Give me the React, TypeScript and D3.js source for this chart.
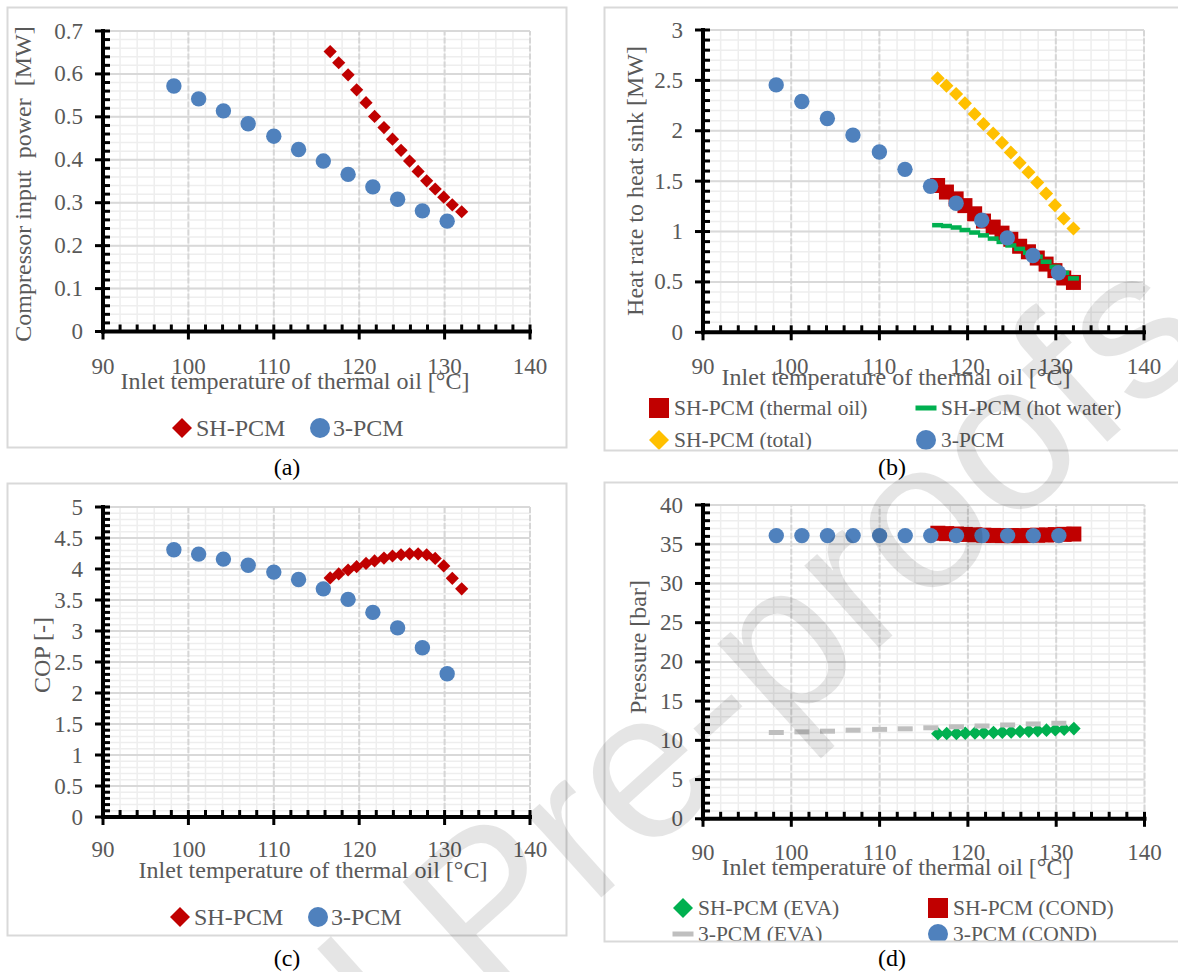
import React from 'react';
import * as d3 from 'd3';

// Inlet temperature of thermal oil [°C]
const tempThreePCM = [98.3, 101.2, 104.1, 107.0, 110.0, 112.9, 115.8, 118.7, 121.6, 124.5, 127.4, 130.3];
const tempSHPCM = [116.6, 117.6, 118.7, 119.7, 120.8, 121.8, 122.9, 123.9, 124.9, 125.9, 126.9, 127.9, 128.9, 129.9, 130.9, 132.0];

// (a) compressor input power [MW]
const powerSHPCM = [0.652, 0.626, 0.598, 0.563, 0.533, 0.501, 0.475, 0.448, 0.422, 0.397, 0.373, 0.351, 0.332, 0.313, 0.295, 0.279];
const powerThreePCM = [0.572, 0.542, 0.514, 0.484, 0.455, 0.424, 0.397, 0.366, 0.337, 0.308, 0.281, 0.257];

// (b) heat rate to heat sink [MW]
const heatOilSHPCM = [1.457, 1.392, 1.324, 1.257, 1.176, 1.104, 1.044, 0.984, 0.923, 0.854, 0.799, 0.737, 0.677, 0.612, 0.539, 0.495];
const heatWaterSHPCM = [1.063, 1.055, 1.04, 1.015, 0.99, 0.962, 0.93, 0.897, 0.862, 0.828, 0.79, 0.75, 0.7, 0.65, 0.59, 0.535];
const heatTotalSHPCM = [2.52, 2.447, 2.364, 2.272, 2.166, 2.066, 1.974, 1.881, 1.785, 1.682, 1.589, 1.487, 1.377, 1.262, 1.129, 1.03];
const heatThreePCM = [2.455, 2.29, 2.122, 1.957, 1.789, 1.617, 1.449, 1.281, 1.112, 0.937, 0.762, 0.591];

// (c) coefficient of performance [-]
const copSHPCM = [3.856, 3.92, 3.984, 4.037, 4.09, 4.13, 4.176, 4.21, 4.23, 4.245, 4.245, 4.23, 4.17, 4.05, 3.85, 3.68];
const copThreePCM = [4.31, 4.24, 4.16, 4.06, 3.95, 3.83, 3.68, 3.51, 3.3, 3.05, 2.73, 2.31];

// (d) evaporator / condenser pressure [bar]
const pEvaSHPCM = [10.85, 10.87, 10.88, 10.9, 10.93, 10.96, 11.0, 11.04, 11.08, 11.13, 11.18, 11.24, 11.3, 11.36, 11.43, 11.5];
const pCondSHPCM = [36.4, 36.35, 36.3, 36.25, 36.2, 36.15, 36.12, 36.1, 36.1, 36.1, 36.12, 36.15, 36.18, 36.22, 36.26, 36.3];
const pEvaThreePCM = [11.0, 11.08, 11.17, 11.3, 11.4, 11.47, 11.6, 11.73, 11.83, 11.96, 12.09, 12.18];
const pCondThreePCM = [36.1, 36.1, 36.1, 36.1, 36.1, 36.1, 36.1, 36.1, 36.1, 36.1, 36.1, 36.1];

// Axis tick labels
const xTickValues = [90, 100, 110, 120, 130, 140];
const yTicksPower = [0, 0.1, 0.2, 0.3, 0.4, 0.5, 0.6, 0.7];
const yTicksHeat = [0, 0.5, 1, 1.5, 2, 2.5, 3];
const yTicksCop = [0, 0.5, 1, 1.5, 2, 2.5, 3, 3.5, 4, 4.5, 5];
const yTicksPressure = [0, 5, 10, 15, 20, 25, 30, 35, 40];

const RED = '#C00000';
const BLUE = '#4F81BD';
const GREEN = '#00B050';
const GOLD = '#FFC000';
const GREY = '#BFBFBF';
const TEXT = '#595959';
const SERIF = "'Liberation Serif', 'Times New Roman', serif";

type Shape = 'circle' | 'diamond' | 'square' | 'dash';
type MarkerStyle = { shape: Shape; color: string; r: number; w?: number; h?: number };

function Marker({ x, y, m }: { x: number; y: number; m: MarkerStyle }) {
  if (m.shape === 'circle') return <circle cx={x} cy={y} r={m.r} fill={m.color} />;
  if (m.shape === 'square')
    return <rect x={x - m.r} y={y - m.r} width={2 * m.r} height={2 * m.r} fill={m.color} />;
  if (m.shape === 'dash') {
    const w = m.w ?? 12;
    const h = m.h ?? 4;
    return <rect x={x - w / 2} y={y - h / 2} width={w} height={h} fill={m.color} />;
  }
  const r = m.r;
  return <path d={`M${x},${y - r}L${x + r},${y}L${x},${y + r}L${x - r},${y}Z`} fill={m.color} />;
}

type SeriesCfg = { xs: number[]; ys: number[]; m: MarkerStyle };
type LegendItem = { label: string; m: MarkerStyle; mx: number; my: number; tx: number };

type PanelCfg = {
  id: string;
  box: [number, number, number, number];
  xRange: [number, number];
  yRange: [number, number];
  yTicks: number[];
  yMinor: number;
  yTitle: string;
  yTitlePos: [number, number];
  xLabelY: number;
  xTitlePos: [number, number];
  series: SeriesCfg[];
  legend: LegendItem[];
  legendFont: number;
  tag: string;
  tagPos: [number, number];
};

const diamondRed: MarkerStyle = { shape: 'diamond', color: RED, r: 6.6 };
const circleBlue: MarkerStyle = { shape: 'circle', color: BLUE, r: 7.7 };

const panels: PanelCfg[] = [
  {
    id: 'a',
    box: [7, 7, 559, 440],
    xRange: [103, 530],
    yRange: [331.5, 31],
    yTicks: yTicksPower,
    yMinor: 0.02,
    yTitle: 'Compressor input  power  [MW]',
    yTitlePos: [23, 184],
    xLabelY: 366,
    xTitlePos: [295, 381],
    series: [
      { xs: tempSHPCM, ys: powerSHPCM, m: diamondRed },
      { xs: tempThreePCM, ys: powerThreePCM, m: circleBlue },
    ],
    legend: [
      { label: 'SH-PCM', m: { shape: 'diamond', color: RED, r: 10 }, mx: 182, my: 428, tx: 196 },
      { label: '3-PCM', m: { shape: 'circle', color: BLUE, r: 10 }, mx: 320, my: 428, tx: 333 },
    ],
    legendFont: 24,
    tag: '(a)',
    tagPos: [287, 467],
  },
  {
    id: 'b',
    box: [604, 7, 600, 443],
    xRange: [703, 1144],
    yRange: [332.3, 30],
    yTicks: yTicksHeat,
    yMinor: 0.1,
    yTitle: 'Heat rate to heat sink [MW]',
    yTitlePos: [635, 181],
    xLabelY: 366,
    xTitlePos: [896, 377],
    series: [
      { xs: tempSHPCM, ys: heatOilSHPCM, m: { shape: 'square', color: RED, r: 7.5 } },
      { xs: tempSHPCM, ys: heatWaterSHPCM, m: { shape: 'dash', color: GREEN, r: 5, w: 11, h: 4.5 } },
      { xs: tempSHPCM, ys: heatTotalSHPCM, m: { shape: 'diamond', color: GOLD, r: 7 } },
      { xs: tempThreePCM, ys: heatThreePCM, m: circleBlue },
    ],
    legend: [
      { label: 'SH-PCM (thermal oil)', m: { shape: 'square', color: RED, r: 10 }, mx: 659, my: 408, tx: 674 },
      { label: 'SH-PCM (hot water)', m: { shape: 'dash', color: GREEN, r: 10, w: 21, h: 5 }, mx: 926, my: 408, tx: 941 },
      { label: 'SH-PCM (total)', m: { shape: 'diamond', color: GOLD, r: 10 }, mx: 659, my: 440, tx: 674 },
      { label: '3-PCM', m: { shape: 'circle', color: BLUE, r: 10 }, mx: 926, my: 440, tx: 941 },
    ],
    legendFont: 21.5,
    tag: '(b)',
    tagPos: [892, 467],
  },
  {
    id: 'c',
    box: [7, 483, 559, 452],
    xRange: [103, 530],
    yRange: [817, 507],
    yTicks: yTicksCop,
    yMinor: 0.1,
    yTitle: 'COP [-]',
    yTitlePos: [42, 655],
    xLabelY: 849,
    xTitlePos: [313, 870],
    series: [
      { xs: tempSHPCM, ys: copSHPCM, m: diamondRed },
      { xs: tempThreePCM, ys: copThreePCM, m: circleBlue },
    ],
    legend: [
      { label: 'SH-PCM', m: { shape: 'diamond', color: RED, r: 10 }, mx: 180, my: 917, tx: 194 },
      { label: '3-PCM', m: { shape: 'circle', color: BLUE, r: 10 }, mx: 318, my: 917, tx: 331 },
    ],
    legendFont: 24,
    tag: '(c)',
    tagPos: [287, 958],
  },
  {
    id: 'd',
    box: [604, 482, 600, 459],
    xRange: [703, 1144.5],
    yRange: [818.8, 505],
    yTicks: yTicksPressure,
    yMinor: 1,
    yTitle: 'Pressure [bar]',
    yTitlePos: [638, 647],
    xLabelY: 852,
    xTitlePos: [896, 867],
    series: [
      { xs: tempSHPCM, ys: pEvaSHPCM, m: { shape: 'diamond', color: GREEN, r: 6.8 } },
      { xs: tempSHPCM, ys: pCondSHPCM, m: { shape: 'square', color: RED, r: 7.5 } },
      { xs: tempThreePCM, ys: pEvaThreePCM, m: { shape: 'dash', color: GREY, r: 7, w: 15, h: 5 } },
      { xs: tempThreePCM, ys: pCondThreePCM, m: circleBlue },
    ],
    legend: [
      { label: 'SH-PCM (EVA)', m: { shape: 'diamond', color: GREEN, r: 10 }, mx: 683, my: 908, tx: 698 },
      { label: 'SH-PCM (COND)', m: { shape: 'square', color: RED, r: 10 }, mx: 938, my: 908, tx: 953 },
      { label: '3-PCM (EVA)', m: { shape: 'dash', color: GREY, r: 10, w: 21, h: 5 }, mx: 683, my: 934, tx: 698 },
      { label: '3-PCM (COND)', m: { shape: 'circle', color: BLUE, r: 10 }, mx: 938, my: 934, tx: 953 },
    ],
    legendFont: 21.5,
    tag: '(d)',
    tagPos: [892, 958],
  },
];

const fmt = (v: number) => String(+v.toFixed(2));

function Panel({ cfg }: { cfg: PanelCfg }) {
  const yMax = cfg.yTicks[cfg.yTicks.length - 1];
  const x = d3.scaleLinear().domain([90, 140]).range(cfg.xRange);
  const y = d3.scaleLinear().domain([0, yMax]).range(cfg.yRange);
  const [x0, x1] = cfg.xRange;
  const [y0, y1] = cfg.yRange;
  const xMinor = d3.range(90, 140.001, 2);
  const yMinor = d3.range(0, yMax + cfg.yMinor / 2, cfg.yMinor);
  const [bx, by, bw, bh] = cfg.box;
  const clipId = `clip-${cfg.id}`;

  return (
    <g>
      <defs>
        <clipPath id={clipId}>
          <rect x={bx} y={by} width={bw} height={bh} />
        </clipPath>
      </defs>
      <g clipPath={`url(#${clipId})`}>
        {/* minor grid */}
        {yMinor.map((v, i) => (
          <line key={`ym${i}`} x1={x0} x2={x1} y1={y(v)} y2={y(v)} stroke="#eeeeee" strokeWidth={1.5} />
        ))}
        {xMinor.map((v, i) => (
          <line key={`xm${i}`} x1={x(v)} x2={x(v)} y1={y0} y2={y1} stroke="#eeeeee" strokeWidth={1.5} />
        ))}
        {/* major grid */}
        {cfg.yTicks.map((v, i) => (
          <line key={`yg${i}`} x1={x0} x2={x1} y1={y(v)} y2={y(v)} stroke="#d9d9d9" strokeWidth={2} />
        ))}
        {xTickValues.slice(1).map((v, i) => (
          <line
            key={`xg${i}`}
            x1={x(v)}
            x2={x(v)}
            y1={y0}
            y2={y1}
            stroke="#d6d6d6"
            strokeWidth={2}
            strokeDasharray="6,2"
          />
        ))}

        {/* data */}
        {cfg.series.map((s, si) => (
          <g key={`s${si}`}>
            {s.xs.map((xv, i) => (
              <Marker key={i} x={x(xv)} y={y(s.ys[i])} m={s.m} />
            ))}
          </g>
        ))}

        {/* axes */}
        <line x1={x0 - 2} x2={x1 + 2} y1={y0} y2={y0} stroke="#000" strokeWidth={4} />
        <line x1={x0} x2={x0} y1={y0 + 2} y2={y1 - 2} stroke="#000" strokeWidth={4} />
        {xMinor.map((v, i) => (
          <line key={`xt${i}`} x1={x(v)} x2={x(v)} y1={y0 - 7} y2={y0} stroke="#000" strokeWidth={3} />
        ))}
        {xTickValues.map((v, i) => (
          <line key={`xT${i}`} x1={x(v)} x2={x(v)} y1={y0} y2={y0 + 8} stroke="#000" strokeWidth={3} />
        ))}
        {yMinor.map((v, i) => (
          <line key={`yt${i}`} x1={x0} x2={x0 + 7} y1={y(v)} y2={y(v)} stroke="#000" strokeWidth={3} />
        ))}
        {cfg.yTicks.map((v, i) => (
          <line key={`yT${i}`} x1={x0 - 8} x2={x0} y1={y(v)} y2={y(v)} stroke="#000" strokeWidth={3} />
        ))}

        {/* tick labels */}
        {cfg.yTicks.map((v, i) => (
          <text
            key={`yl${i}`}
            x={x0 - 20}
            y={y(v)}
            textAnchor="end"
            dominantBaseline="central"
            fontFamily={SERIF}
            fontSize={23}
            fill={TEXT}
          >
            {fmt(v)}
          </text>
        ))}
        {xTickValues.map((v, i) => (
          <text
            key={`xl${i}`}
            x={x(v)}
            y={cfg.xLabelY}
            textAnchor="middle"
            dominantBaseline="central"
            fontFamily={SERIF}
            fontSize={23}
            fill={TEXT}
          >
            {v}
          </text>
        ))}

        {/* axis titles */}
        <text
          x={cfg.xTitlePos[0]}
          y={cfg.xTitlePos[1]}
          textAnchor="middle"
          dominantBaseline="central"
          fontFamily={SERIF}
          fontSize={24}
          fill={TEXT}
        >
          Inlet temperature of thermal oil [°C]
        </text>
        <text
          transform={`translate(${cfg.yTitlePos[0]},${cfg.yTitlePos[1]}) rotate(-90)`}
          textAnchor="middle"
          dominantBaseline="central"
          fontFamily={SERIF}
          fontSize={24}
          fill={TEXT}
          style={{ whiteSpace: 'pre' }}
        >
          {cfg.yTitle}
        </text>

        {/* legend */}
        {cfg.legend.map((it, i) => (
          <g key={`lg${i}`}>
            <Marker x={it.mx} y={it.my} m={it.m} />
            <text
              x={it.tx}
              y={it.my}
              dominantBaseline="central"
              fontFamily={SERIF}
              fontSize={cfg.legendFont}
              fill={TEXT}
            >
              {it.label}
            </text>
          </g>
        ))}
      </g>
      <rect x={bx + 0.5} y={by + 0.5} width={bw} height={bh} fill="none" stroke="#d9d9d9" strokeWidth={2} />
      <text
        x={cfg.tagPos[0]}
        y={cfg.tagPos[1]}
        textAnchor="middle"
        dominantBaseline="central"
        fontFamily={SERIF}
        fontSize={24}
        fill="#000"
      >
        {cfg.tag}
      </text>
    </g>
  );
}

export default function App() {
  return (
    <svg
      width={1178}
      height={972}
      viewBox="0 0 1178 972"
      style={{ position: 'absolute', left: 0, top: 0, background: '#fff' }}
    >
      <rect x={0} y={0} width={1178} height={972} fill="#fff" />
      {panels.map((p) => (
        <Panel key={p.id} cfg={p} />
      ))}
      <text
        x={1215}
        y={345}
        textAnchor="end"
        transform="rotate(-42 1215 345)"
        fontFamily="'Liberation Sans', Arial, sans-serif"
        fontSize={210}
        fill="#000"
        fillOpacity={0.1}
      >
        Journal Pre-proofs
      </text>
    </svg>
  );
}
